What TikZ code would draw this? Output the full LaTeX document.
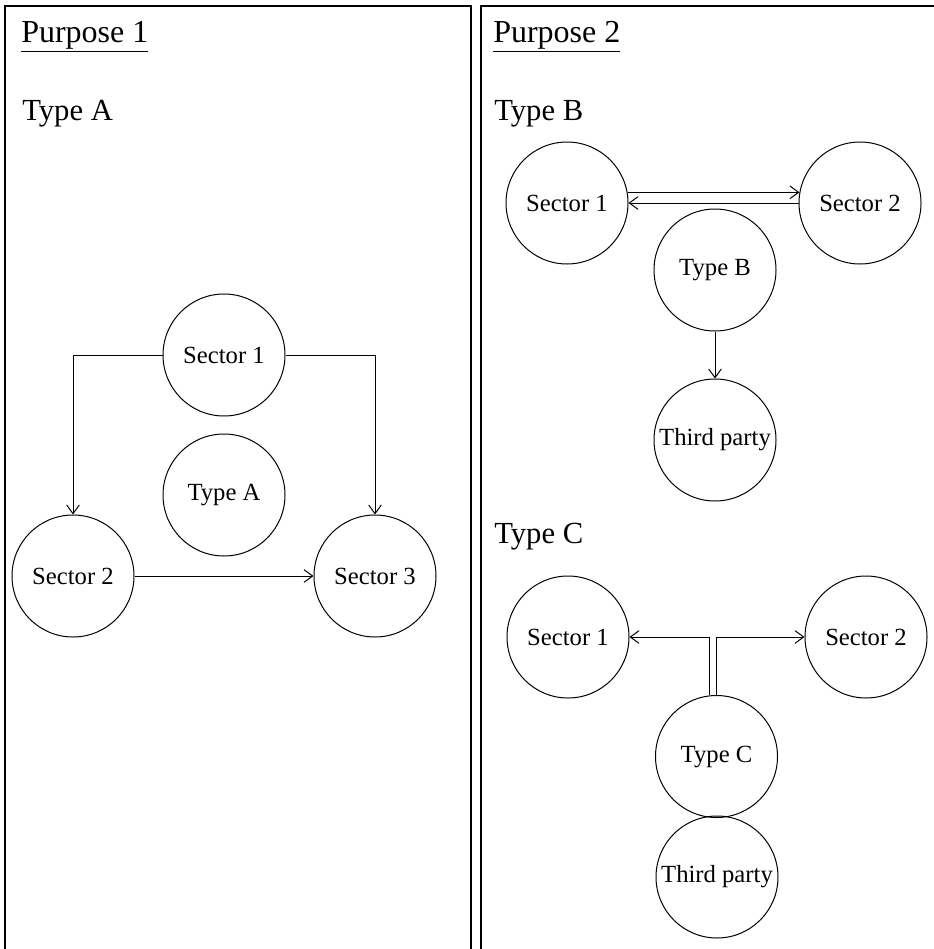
\documentclass[tikz,border=0pt]{standalone}
\usepackage{fontspec}
\setmainfont{Liberation Serif}
\usetikzlibrary{arrows.meta}
\begin{document}
\begin{tikzpicture}[x=0.75pt,y=-0.75pt,
  panel/.style={draw, line width=1pt},
  heading/.style={anchor=base west, inner sep=0pt, font=\fontsize{23}{27}\selectfont},
  title/.style={heading, font=\fontsize{24}{28}\selectfont},
  party/.style={circle, draw, line width=0.75pt, minimum size=91.5pt, inner sep=0pt,
                font=\fontsize{18.5}{22}\selectfont},
  flow/.style={line width=0.75pt, -{Straight Barb[length=6.5pt,width=9.5pt]}}]
\useasboundingbox (0,0) rectangle (934,949);

% two panels, running past the lower and right edges
\draw[panel] (5,6) rectangle (471,960);
\draw[panel] (481,6) rectangle (950,960);

% panel titles
\node[title] (p1) at (21,43) {\underline{Purpose 1}};
\node[heading] (ta) at (22,120) {Type A};
\node[title] (p2) at (493,43) {\underline{Purpose 2}};
\node[heading] (tb) at (494,120) {Type B};
\node[heading] (tc) at (494,543) {Type C};

% Type A
\node[party] (a1) at (224,355) {Sector 1};
\node[party] (atype) at (224,495) {Type A};
\node[party] (a2) at (73,576) {Sector 2};
\node[party] (a3) at (375,576) {Sector 3};
\draw[flow] (a1.west) -| (a2.north);
\draw[flow] (a1.east) -| (a3.north);
\draw[flow] (a2.east) -- (a3.west);

% Type B
\node[party] (b1) at (567,203) {Sector 1};
\node[party] (b2) at (860,203) {Sector 2};
\node[party] (btype) at (715,270) {Type B};
\node[party] (b3) at (715,440) {Third party};
\draw[flow] (b1.10) -- (b2.170);
\draw[flow] (b2.west) -- (b1.east);
\draw[flow] (btype.south) -- (b3.north);

% Type C
\node[party] (c1) at (568,637) {Sector 1};
\node[party] (c2) at (866,637) {Sector 2};
\node[party] (ctype) at (716.5,756.5) {Type C};
\node[party] (c3) at (717,877) {Third party};
\draw[flow] (ctype.97) |- (c1.east);
\draw[flow] (ctype.north) |- (c2.west);
\end{tikzpicture}
\end{document}
